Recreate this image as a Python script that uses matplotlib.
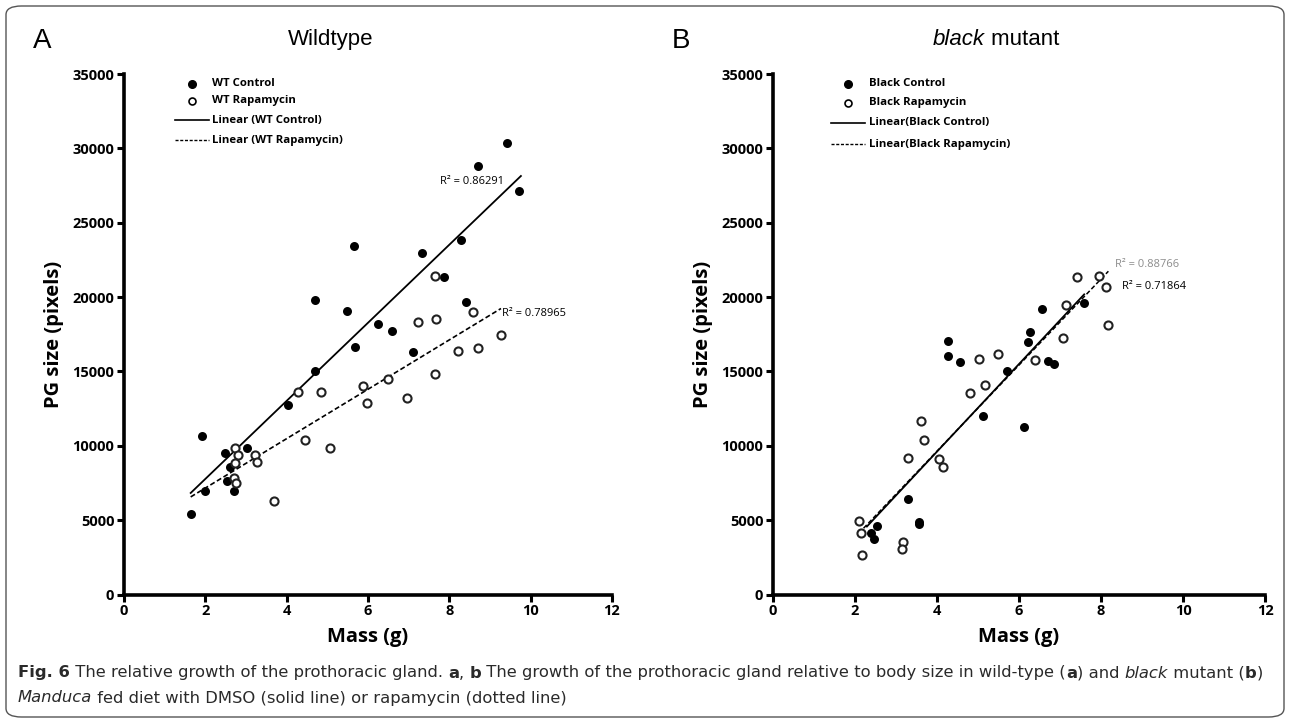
import numpy as np
import matplotlib
matplotlib.use("Agg")
import matplotlib.pyplot as plt
from matplotlib.patches import FancyBboxPatch

# ---------------- data ----------------
wt_ctrl_x = [1.64, 1.92, 1.99, 2.48, 2.53, 2.61, 2.70, 3.03, 4.03, 4.70, 4.69, 5.48,
             5.69, 5.65, 7.32, 8.29, 7.88, 6.24, 6.59, 7.10, 8.41, 8.71, 9.42, 9.72]
wt_ctrl_y = [5420, 10670, 6950, 9510, 7670, 8570, 6950, 9850, 12740, 15000, 19820, 19080,
             16640, 23410, 22970, 23860, 21350, 18190, 17740, 16340, 19640, 28840, 30390, 27160]

wt_rapa_x = [2.73, 2.80, 2.74, 2.70, 2.76, 3.23, 3.26, 3.69, 4.29, 4.84, 4.45, 5.07,
             5.87, 5.97, 6.49, 6.95, 7.22, 7.68, 7.65, 7.65, 8.21, 8.71, 8.57, 9.27]
wt_rapa_y = [9880, 9390, 8880, 7830, 7490, 9410, 8940, 6320, 13590, 13590, 10400, 9850,
             14040, 12870, 14490, 13210, 18300, 18540, 21440, 14840, 16390, 16550, 19020, 17470]

bk_ctrl_x = [2.53, 2.39, 2.46, 3.29, 3.55, 3.57, 5.12, 6.11, 4.28, 4.28, 4.56, 5.71,
             6.22, 6.27, 6.55, 6.71, 6.85, 7.59]
bk_ctrl_y = [4620, 4120, 3720, 6410, 4910, 4750, 12040, 11260, 17080, 16010, 15630, 15040,
             16980, 17650, 19220, 15700, 15520, 19600]

bk_rapa_x = [2.09, 2.14, 2.17, 3.17, 3.15, 3.30, 3.62, 3.68, 4.06, 4.15, 4.80, 5.17,
             5.03, 5.49, 6.39, 7.07, 7.14, 7.42, 7.94, 8.11, 8.18]
bk_rapa_y = [4970, 4170, 2650, 3560, 3070, 9190, 11660, 10420, 9130, 8610, 13550, 14090,
             15830, 16170, 15770, 17250, 19490, 21350, 21440, 20680, 18140]

r2_labels_a = ["R\u00b2 = 0.86291", "R\u00b2 = 0.78965"]
r2_labels_b = ["R\u00b2 = 0.88766", "R\u00b2 = 0.71864"]
legend_a = ["WT Control", "WT Rapamycin", "Linear (WT Control)", "Linear (WT Rapamycin)"]
legend_b = ["Black Control", "Black Rapamycin", "Linear(Black Control)", "Linear(Black Rapamycin)"]
xticks = [0, 2, 4, 6, 8, 10, 12]
yticks = [0, 5000, 10000, 15000, 20000, 25000, 30000, 35000]

# ---------------- figure ----------------
W, H = 1290, 721
fig = plt.figure(figsize=(W / 100, H / 100), dpi=100)

border = FancyBboxPatch((6 / W, 4 / H), (W - 12) / W, (H - 10) / H,
                        boxstyle="round,pad=0,rounding_size=0.012",
                        transform=fig.transFigure, fill=False,
                        edgecolor="#555555", linewidth=1.0)
fig.patches.append(border)

SANS = ["Open Sans", "DejaVu Sans"]
ARIAL = ["Liberation Sans", "DejaVu Sans"]
TICKFONT = dict(family=SANS, weight="bold", size=10.5)
LEGFONT = dict(family=SANS, weight="bold", size=8.2)
R2FONT = dict(family=SANS, size=8)


def px_axes(left, right, top, bottom):
    return fig.add_axes([left / W, 1 - bottom / H, (right - left) / W, (bottom - top) / H])


def style_axes(ax):
    ax.set_xlim(0, 12)
    ax.set_ylim(0, 35000)
    for s in ["top", "right"]:
        ax.spines[s].set_visible(False)
    for s in ["left", "bottom"]:
        ax.spines[s].set_linewidth(2.6)
        ax.spines[s].set_capstyle("projecting")
    ax.set_xticks(xticks)
    ax.set_yticks(yticks)
    ax.set_xticklabels([str(t) for t in xticks], **TICKFONT)
    ax.set_yticklabels([str(t) for t in yticks], **TICKFONT)
    ax.tick_params(direction="out", length=5, width=2.2, pad=2)
    ax.set_xlabel("Mass (g)", family=SANS, weight="bold", size=14.5, labelpad=6)
    ax.set_ylabel("PG size (pixels)", family=SANS, weight="bold", size=14.5, labelpad=6)
    ax.patch.set_alpha(0)


def legend(x_marker, x_line0, x_line1, x_text, ys, labels):
    tr = fig.transFigure
    for i, (yy, lab) in enumerate(zip(ys, labels)):
        fy = 1 - yy / H
        if i == 0:
            fig.lines.append(plt.Line2D([x_marker / W], [fy], marker="o", ms=5.5, color="black",
                                        transform=tr, linestyle="none"))
        elif i == 1:
            fig.lines.append(plt.Line2D([x_marker / W], [fy], marker="o", ms=5, mfc="white",
                                        mec="black", mew=1.2, transform=tr, linestyle="none"))
        elif i == 2:
            fig.lines.append(plt.Line2D([x_line0 / W, x_line1 / W], [fy, fy], color="black",
                                        linewidth=1.2, transform=tr))
        else:
            fig.lines.append(plt.Line2D([x_line0 / W, x_line1 / W], [fy, fy], color="black",
                                        linewidth=1.0, linestyle=(0, (2.2, 1.2)), transform=tr))
        fig.text(x_text / W, fy, lab, ha="left", va="center", **LEGFONT)


def rich_line(x_px, y_px, pieces, size, family, color="black", va="center", center=False):
    fig.canvas.draw()
    r = fig.canvas.get_renderer()
    texts = []
    x = x_px
    for txt, kw in pieces:
        t = fig.text(x / W, 1 - y_px / H, txt, ha="left", va=va, size=size,
                     family=family, color=color, **kw)
        bb = t.get_window_extent(renderer=r)
        x += bb.width
        texts.append(t)
    if center:
        total = x - x_px
        shift = total / 2
        for t in texts:
            px, py = t.get_position()
            t.set_position((px - shift / W, py))


# ---------------- Panel A ----------------
axA = px_axes(124, 612, 74, 594.6)
style_axes(axA)
axA.scatter(wt_ctrl_x, wt_ctrl_y, s=42, color="black", zorder=3, linewidths=0)
axA.scatter(wt_rapa_x, wt_rapa_y, s=34, facecolor="white", edgecolor="#222222",
            linewidths=1.5, zorder=3)
mA, bA = np.polyfit(wt_ctrl_x, wt_ctrl_y, 1)
xs = np.array([min(wt_ctrl_x), 9.76])
axA.plot(xs, mA * xs + bA, color="black", linewidth=1.3, zorder=2)
mA2, bA2 = np.polyfit(wt_rapa_x, wt_rapa_y, 1)
xs = np.array([1.64, max(wt_rapa_x)])
axA.plot(xs, mA2 * xs + bA2, color="black", linewidth=1.2, linestyle=(0, (3, 1.6)), zorder=2)
fig.text(472 / W, 1 - 181 / H, r2_labels_a[0], ha="center", va="center", **R2FONT)
fig.text(502 / W, 1 - 313 / H, r2_labels_a[1], ha="left", va="center", **R2FONT)
legend(192, 175, 209, 212, [84, 101, 120, 140], legend_a)

fig.text(42 / W, 1 - 48 / H, "A", ha="center", va="baseline", size=20, family=ARIAL)
fig.text(331 / W, 1 - 45 / H, "Wildtype", ha="center", va="baseline", size=16, family=ARIAL)

# ---------------- Panel B ----------------
axB = px_axes(773, 1265, 74, 594.6)
style_axes(axB)
axB.scatter(bk_ctrl_x, bk_ctrl_y, s=42, color="black", zorder=3, linewidths=0)
axB.scatter(bk_rapa_x, bk_rapa_y, s=34, facecolor="white", edgecolor="#222222",
            linewidths=1.5, zorder=3)
mB, bB = np.polyfit(bk_ctrl_x, bk_ctrl_y, 1)
xs = np.array([2.29, max(bk_ctrl_x)])
axB.plot(xs, mB * xs + bB, color="black", linewidth=1.3, zorder=2)
mB2, bB2 = np.polyfit(bk_rapa_x, bk_rapa_y, 1)
xs = np.array([min(bk_rapa_x), max(bk_rapa_x)])
axB.plot(xs, mB2 * xs + bB2, color="black", linewidth=1.1, linestyle=(0, (3, 1.6)), zorder=2)
fig.text(1115 / W, 1 - 264 / H, r2_labels_b[0], ha="left", va="center", color="#8c8c8c", **R2FONT)
fig.text(1122 / W, 1 - 286 / H, r2_labels_b[1], ha="left", va="center", **R2FONT)
legend(848, 831, 865, 869, [84, 103, 123, 144], legend_b)

fig.text(681 / W, 1 - 48 / H, "B", ha="center", va="baseline", size=20, family=ARIAL)
rich_line(996, 45, [("black", {"style": "italic"}), (" mutant", {})], size=16, family=ARIAL,
          va="baseline", center=True)

# ---------------- caption ----------------
CAPFAM = ["Liberation Sans Narrow", "DejaVu Sans"]
CAPCOL = "#2a2a2a"
N = {}
B = {"weight": "bold"}
I = {"style": "italic"}
rich_line(18, 673, [("Fig. 6", B), (" The relative growth of the prothoracic gland. ", N), ("a", B),
                    (", ", N), ("b", B),
                    (" The growth of the prothoracic gland relative to body size in wild-type (", N),
                    ("a", B), (") and ", N), ("black", I), (" mutant (", N), ("b", B), (")", N)],
          size=11.8, family=CAPFAM, color=CAPCOL)
rich_line(18, 698, [("Manduca", I), (" fed diet with DMSO (solid line) or rapamycin (dotted line)", N)],
          size=11.8, family=CAPFAM, color=CAPCOL)

fig.savefig("out.png", dpi=100)
